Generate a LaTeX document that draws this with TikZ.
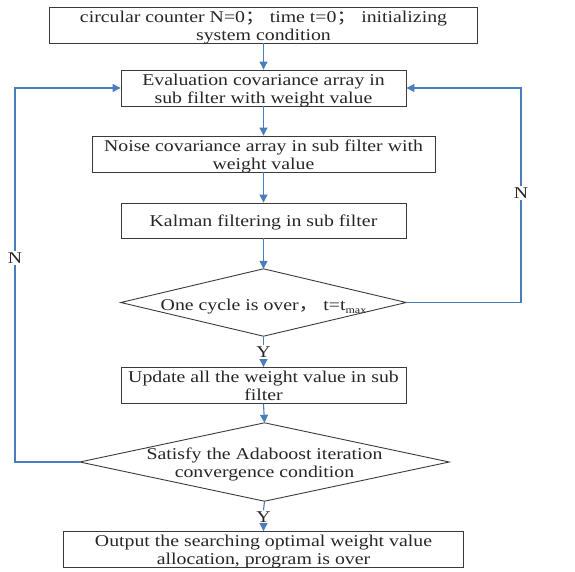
\documentclass[tikz,border=0pt]{standalone}
\usepackage{fontspec}
\setmainfont{Liberation Serif}[FakeStretch=1.2]
\newfontfamily\cjk{Noto Sans CJK SC}[FakeStretch=1.2]
\usetikzlibrary{arrows.meta}
\definecolor{flowblue}{HTML}{4A7EBB}
\definecolor{boxgray}{HTML}{3A3A3A}
\tikzset{
  box/.style={draw=boxgray, line width=0.9pt, rectangle, align=center, inner sep=0pt, text=black!85},
  dec/.style={rectangle, align=center, inner sep=0pt, text=black!85},
  decline/.style={draw=boxgray, line width=0.9pt},
  flow/.style={draw=flowblue, line width=1.1pt, -{Triangle[length=8pt,width=8pt]}},
  flowplain/.style={draw=flowblue, line width=1.1pt},
  lbl/.style={inner sep=1pt, text=black!85}
}
\newcommand{\fsem}{{\cjk ；}}
\newcommand{\fcom}{{\cjk ，}}
\newcommand{\bt}[1]{\raisebox{-2.5pt}[\height][\depth]{\begin{tabular}{@{}c@{}}#1\end{tabular}}}
\begin{document}
\begin{tikzpicture}[x=1pt,y=-1pt,font=\fontsize{16.5}{18}\selectfont]
\useasboundingbox (0,0) rectangle (575,571);
\node[box, minimum width=428, minimum height=36] (b1) at (263.5,25) {\bt{circular counter N=0\fsem\ time t=0\fsem\ initializing\\system condition}};
\node[box, minimum width=285, minimum height=36] (b2) at (263.5,88) {\bt{Evaluation covariance array in\\sub filter with weight value}};
\node[box, minimum width=343, minimum height=36] (b3) at (263.5,154) {\bt{Noise covariance array in sub filter with\\weight value}};
\node[box, minimum width=285, minimum height=35] (b4) at (263.5,220.5) {\bt{Kalman filtering in sub filter}};
\node[dec, minimum width=285, minimum height=67] (d1) at (263.5,302.5) {};
\node[dec] (d1t) at (263.5,304) {\bt{One cycle is over\fcom\ t=t{\fontsize{10}{10}\selectfont\raisebox{-3pt}{max}}}};
\draw[decline] (d1.north) -- (d1.east) -- (d1.south) -- (d1.west) -- cycle;
\node[lbl] (y1) at (263.5,352) {Y};
\node[box, minimum width=285, minimum height=35] (b5) at (263.5,385.5) {\bt{Update all the weight value in sub\\filter}};
\node[dec, minimum width=369, minimum height=78] (d2) at (264.5,462) {\bt{Satisfy the Adaboost iteration\\convergence condition}};
\draw[decline] (d2.north) -- (d2.east) -- (d2.south) -- (d2.west) -- cycle;
\node[lbl] (y2) at (263.5,517) {Y};
\node[box, minimum width=400, minimum height=35] (b6) at (263.5,549.5) {\bt{Output the searching optimal weight value\\allocation, program is over}};
% labels on loops
\node[lbl, fill=white] (nl) at (15,258) {N};
\node[lbl, fill=white] (nr) at (521,193) {N};
\coordinate (rc1) at (521,302.5);
\coordinate (rc2) at (521,88);
\coordinate (lc1) at (15,462);
\coordinate (lc2) at (15,88);
% main flow
\draw[flow] (b1.south) -- (b2.north);
\draw[flow] (b2.south) -- (b3.north);
\draw[flow] (b3.south) -- (b4.north);
\draw[flow] (b4.south) -- (d1.north);
\draw[flowplain] (d1.south) -- (y1.north);
\draw[flow] (y1.south) -- (b5.north);
\draw[flow] (b5.south) -- (d2.north);
\draw[flowplain] (d2.south) -- (y2.north);
\draw[flow] (y2.south) -- (b6.north);
% loops
\draw[flowplain] (d1.east) -- (rc1) -- (nr.south);
\draw[flow] (nr.north) -- (rc2) -- (b2.east);
\draw[flowplain] (d2.west) -- (lc1) -- (nl.south);
\draw[flow] (nl.north) -- (lc2) -- (b2.west);
\end{tikzpicture}
\end{document}
